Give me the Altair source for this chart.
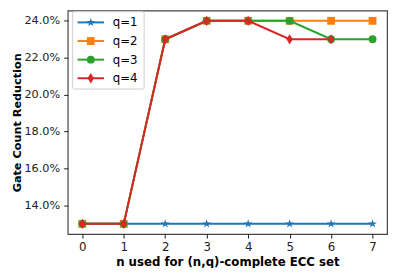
import altair as alt
import pandas as pd

n_values = [0, 1, 2, 3, 4, 5, 6, 7]
q1 = [0.13, 0.13, 0.13, 0.13, 0.13, 0.13, 0.13, 0.13]
q2 = [0.13, 0.13, 0.23, 0.24, 0.24, 0.24, 0.24, 0.24]
q3 = [0.13, 0.13, 0.23, 0.24, 0.24, 0.24, 0.23, 0.23]
q4 = [0.13, 0.13, 0.23, 0.24, 0.24, 0.23, 0.23]
series_names = ["q=1", "q=2", "q=3", "q=4"]
series_values = [q1, q2, q3, q4]
colors = ["#1f77b4", "#ff7f0e", "#2ca02c", "#d62728"]

STAR = ("M0,-1L0.225,-0.309L0.951,-0.309L0.363,0.118L0.588,0.809L0,0.382"
        "L-0.588,0.809L-0.363,0.118L-0.951,-0.309L-0.225,-0.309Z")
DIAMOND = "M0,-1L0.62,0L0,1L-0.62,0Z"
shapes = [STAR, "square", "circle", DIAMOND]
sizes = [85, 64, 64, 110]

rows = []
for name, vals in zip(series_names, series_values):
    for n, v in zip(n_values, vals):
        rows.append({"n": n, "value": v, "series": name})
df = pd.DataFrame(rows)

FONT = "DejaVu Sans"
xscale = alt.Scale(domain=[-0.35, 7.35], nice=False, zero=False)
yscale = alt.Scale(domain=[0.1245, 0.2455], nice=False, zero=False)

xenc = alt.X("n:Q", scale=xscale,
             axis=alt.Axis(values=n_values, format="d", title="n used for (n,q)-complete ECC set"))
yenc = alt.Y("value:Q", scale=yscale,
             axis=alt.Axis(values=[0.14, 0.16, 0.18, 0.20, 0.22, 0.24], format=".1%",
                           title="Gate Count Reduction"))

layers = []
for name, col, shp, sz in zip(series_names, colors, shapes, sizes):
    base = alt.Chart(df).transform_filter(alt.datum.series == name)
    layers.append(base.mark_line(color=col, strokeWidth=2).encode(x=xenc, y=yenc))
    layers.append(base.mark_point(color=col, filled=True, opacity=1, shape=shp, size=sz)
                  .encode(x=xenc, y=yenc))

one = pd.DataFrame({"a": [0]})
# legend box
layers.append(alt.Chart(one).mark_rect(fill="white", fillOpacity=0.8, stroke="#cccccc",
                                       strokeWidth=1, cornerRadius=2)
              .encode(x=alt.value(5), x2=alt.value(78), y=alt.value(1), y2=alt.value(80)))
for i, (name, col, shp, sz) in enumerate(zip(series_names, colors, shapes, sizes)):
    yy = 12 + 19 * i
    layers.append(alt.Chart(one).mark_rule(color=col, strokeWidth=2)
                  .encode(x=alt.value(10), x2=alt.value(37), y=alt.value(yy)))
    layers.append(alt.Chart(one).mark_point(color=col, filled=True, opacity=1, shape=shp, size=sz)
                  .encode(x=alt.value(23.5), y=alt.value(yy)))
    layers.append(alt.Chart(one).mark_text(align="left", baseline="middle", font=FONT,
                                           fontSize=12, color="#000")
                  .encode(x=alt.value(46), y=alt.value(yy), text=alt.value(name)))

chart = alt.layer(*layers).properties(
    width=326, height=228,
    autosize=alt.AutoSizeParams(type="none"),
    padding={"left": 61, "top": 0, "right": 4, "bottom": 32},
).configure_view(stroke="#444444", strokeWidth=1.2).configure_axis(
    grid=False, domain=False, tickColor="#000", tickSize=4.2, tickWidth=0.9,
    labelFont=FONT, labelFontSize=11.5, labelColor="#222",
    titleFont=FONT, titleFontSize=11.5, titleFontWeight="bold", titleColor="#000",
    labelPadding=4,
).configure_axisX(titlePadding=4, labelFontSize=12, titleFontSize=12).configure_axisY(titlePadding=2)

chart.save("out.html", embed_options={"renderer": "svg", "actions": False})
